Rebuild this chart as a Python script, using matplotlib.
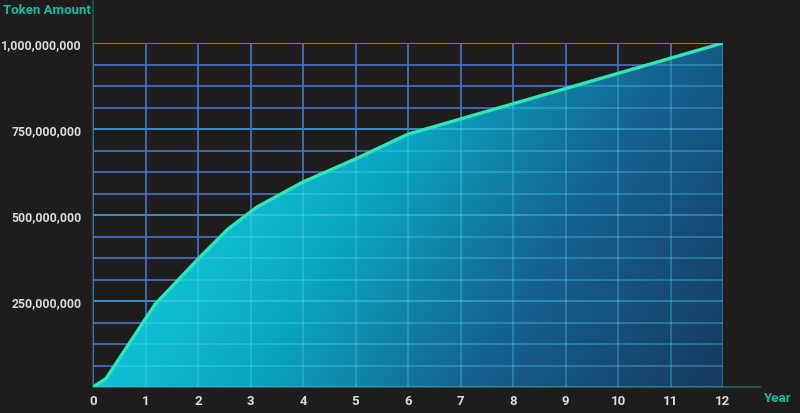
import numpy as np
import matplotlib.pyplot as plt
from matplotlib.colors import LinearSegmentedColormap

# token release curve
years = [0, 0.25, 1.18, 2, 2.57, 3.12, 4, 5, 6, 12]
tokens = [0, 25e6, 240e6, 372e6, 459e6, 523e6, 596e6, 663e6, 735e6, 1000e6]
x_ticks = list(range(13))
y_ticks = [250e6, 500e6, 750e6, 1000e6]
y_labels = ["250,000,000", "500,000,000", "750,000,000", "1,000,000,000"]

bg = "#1e1c1c"
fam = ["Roboto", "DejaVu Sans"]

fig = plt.figure(figsize=(8, 4.14), dpi=100, facecolor=bg)
ax = fig.add_axes([93 / 800, 26 / 414, 630 / 800, 344 / 414])
ax.set_facecolor(bg)
ax.set_xlim(0, 12)
ax.set_ylim(0, 1e9)

# gradient fill clipped to the area under the curve
poly = ax.fill_between(years, tokens, 0, color="none", lw=0)
path = poly.get_paths()[0]
nx, ny = 300, 200
gx, gy = np.meshgrid(np.linspace(0, 1, nx), np.linspace(1, 0, ny))
t = np.clip(0.85 * gx + 0.3 * (1 - gy) - 0.15, 0, 1)
cmap = LinearSegmentedColormap.from_list(
    "fill", [(0, "#12d6e2"), (0.35, "#0aa6c4"), (0.65, "#15628f"), (1, "#163a60")])
img = ax.imshow(t, cmap=cmap, extent=[0, 12, 0, 1e9], aspect="auto", zorder=1, vmin=0, vmax=1)
img.set_clip_path(path, transform=ax.transData)

# grid: blue on the dark part, lighter cyan over the fill
for y in np.arange(0, 1e9 + 1, 62.5e6):
    major = abs(y % 250e6) < 1
    ax.axhline(y, color="#3aa6dc" if major else "#4676c8", lw=1.2, zorder=0.5)
    h = ax.axhline(y, color="#5ad8ff", lw=1.2, alpha=0.45 if major else 0.35, zorder=2)
    h.set_clip_path(path, transform=ax.transData)
for x in x_ticks:
    ax.axvline(x, color="#4676c8", lw=1.2, zorder=0.5)
    v = ax.axvline(x, color="#5ad8ff", lw=1.2, alpha=0.35, zorder=2)
    v.set_clip_path(path, transform=ax.transData)

ax.plot(years, tokens, color="#2ee8b4", lw=2.4, zorder=3, solid_capstyle="round")

for s in ax.spines.values():
    s.set_visible(False)

# extended axis lines
ax.plot([0, 0], [0, 1.128e9], color="#1d5a50", lw=1.2, clip_on=False, zorder=0)
ax.plot([0, 12.7], [0, 0], color="#1d5a50", lw=1.5, clip_on=False, zorder=0)

ax.set_xticks(x_ticks)
ax.set_xticklabels([str(x) for x in x_ticks])
ax.set_yticks(y_ticks)
ax.set_yticklabels(y_labels)
ax.tick_params(length=0, colors="#dcdcdc")
ax.tick_params(axis="y", pad=8)
ax.tick_params(axis="x", pad=5)
for lab in ax.get_xticklabels():
    lab.set_family(fam)
    lab.set_fontweight("bold")
    lab.set_fontsize(9.5)
for lab in ax.get_yticklabels():
    lab.set_family(fam)
    lab.set_fontweight("bold")
    lab.set_fontsize(8.8)

fig.text(3 / 800, 1 - 11 / 414, "Token Amount", color="#1abcaa", fontsize=9.5,
         fontweight="bold", family=fam, va="center", ha="left")
fig.text(764 / 800, 1 - 399 / 414, "Year", color="#1abcaa", fontsize=9.5,
         fontweight="bold", family=fam, va="center", ha="left")

fig.savefig("out.png", dpi=100, facecolor=bg)
